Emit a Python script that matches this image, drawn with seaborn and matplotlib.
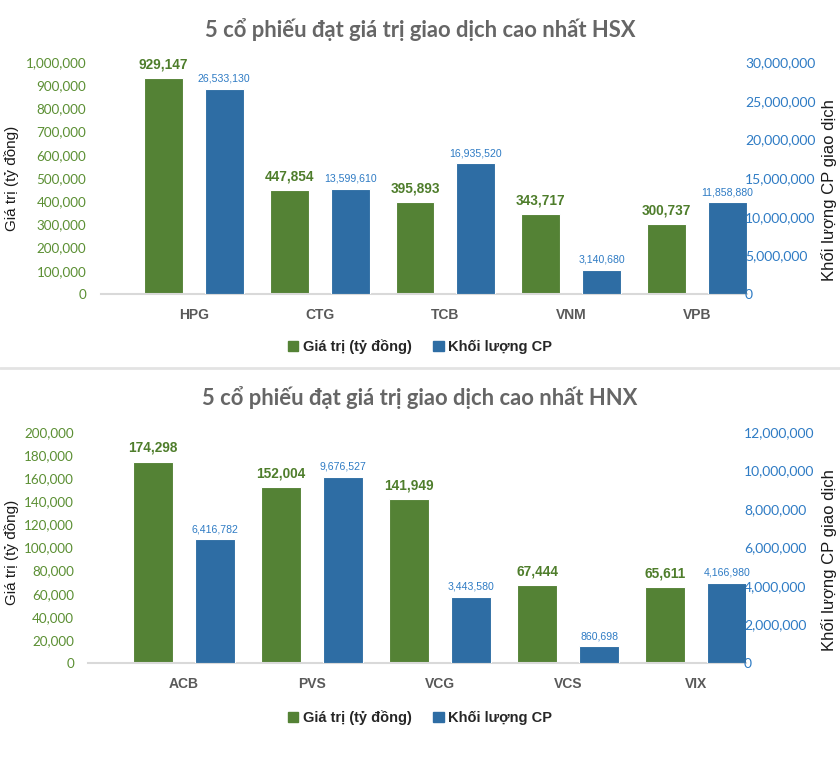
import pandas as pd
import numpy as np
import matplotlib
matplotlib.use("Agg")
import matplotlib.pyplot as plt
import seaborn as sns
from matplotlib.ticker import FuncFormatter, MultipleLocator
from matplotlib.patches import Patch
from matplotlib.lines import Line2D
from matplotlib.font_manager import FontProperties

# Dữ liệu HSX
hsx_codes = ["HPG", "CTG", "TCB", "VNM", "VPB"]
hsx_value = [929147, 447854, 395893, 343717, 300737]
hsx_volume = [26533130, 13599610, 16935520, 3140680, 11858880]

# Dữ liệu HNX
hnx_codes = ["ACB", "PVS", "VCG", "VCS", "VIX"]
hnx_value = [174298, 152004, 141949, 67444, 65611]
hnx_volume = [6416782, 9676527, 3443580, 860698, 4166980]

S1 = "Giá trị (tỷ đồng)"
S2 = "Khối lượng CP"
GREEN = "#548235"
BLUE = "#2E6DA4"
GREEN_TXT = "#5B8F33"
BLUE_TXT = "#2E7BC4"
pal = {S1: GREEN, S2: BLUE}

sns.set_theme(style="white")
plt.rcParams['font.family'] = ['Lato', 'DejaVu Sans']
NARROW = ['Liberation Sans Narrow', 'Liberation Sans', 'DejaVu Sans']

W, H = 840, 764
fig = plt.figure(figsize=(W / 100, H / 100), dpi=100)


def px_axes(left, top, right, bottom):
    return fig.add_axes([left / W, 1 - bottom / H, (right - left) / W, (bottom - top) / H])


def cot_that(ax):
    # lấy container có cột thật (bỏ qua nhóm hue rỗng)
    for c in ax.containers:
        if len(c) and all(b is not None for b in c):
            return c


def ve_panel(ax, codes, values, volumes, left_max, left_step, right_max, right_step, xlim, left_pad):
    ax2 = ax.twinx()
    df_v = pd.DataFrame({"code": codes, "val": values, "series": S1})
    df_k = pd.DataFrame({"code": codes, "val": volumes, "series": S2})
    sns.barplot(data=df_v, x="code", y="val", hue="series", hue_order=[S1, S2], order=codes,
                palette=pal, dodge=True, width=0.968, gap=0.36, saturation=1, errorbar=None,
                edgecolor="white", linewidth=0.8, legend=False, ax=ax)
    sns.barplot(data=df_k, x="code", y="val", hue="series", hue_order=[S1, S2], order=codes,
                palette=pal, dodge=True, width=0.968, gap=0.36, saturation=1, errorbar=None,
                edgecolor="white", linewidth=0.8, legend=False, ax=ax2)

    ax.set_ylim(0, left_max)
    ax2.set_ylim(0, right_max)
    ax.set_xlim(*xlim)
    ax.yaxis.set_major_locator(MultipleLocator(left_step))
    ax2.yaxis.set_major_locator(MultipleLocator(right_step))
    fmt = FuncFormatter(lambda v, p: f"{v:,.0f}")
    ax.yaxis.set_major_formatter(fmt)
    ax2.yaxis.set_major_formatter(fmt)
    ax.set_xlabel("")
    ax.set_ylabel("")
    ax2.set_ylabel("")

    for a in (ax, ax2):
        for s in a.spines.values():
            s.set_visible(False)
    ax.spines["bottom"].set_visible(True)
    ax.spines["bottom"].set_color("#D9D9D9")
    ax.spines["bottom"].set_linewidth(1.5)

    ax.tick_params(axis="y", length=0, pad=left_pad, labelcolor=GREEN_TXT, labelsize=9.7)
    ax2.tick_params(axis="y", length=0, pad=-1.5, labelcolor=BLUE_TXT, labelsize=10)
    ax.tick_params(axis="x", length=0, pad=10)
    for lab in ax.get_xticklabels():
        lab.set_fontfamily(NARROW)
        lab.set_fontweight("bold")
        lab.set_fontsize(10)
        lab.set_color("#595959")

    # nhãn giá trị trên cột
    ax.bar_label(cot_that(ax), labels=[f"{v:,}" for v in values], padding=5,
                 color="#4E7D2B", fontsize=9.8, fontweight="bold", family=NARROW)
    ax2.bar_label(cot_that(ax2), labels=[f"{v:,}" for v in volumes], padding=3.5,
                  color=BLUE_TXT, fontsize=7.6, family=NARROW)
    return ax2


# Biểu đồ HSX
ax_top = px_axes(101, 62, 747, 294)
ve_panel(ax_top, hsx_codes, hsx_value, hsx_volume, 1000000, 100000, 30000000, 5000000,
         (-0.738, 4.397), 10.5)

# Biểu đồ HNX
ax_bot = px_axes(88, 432, 746, 663)
ve_panel(ax_bot, hnx_codes, hnx_value, hnx_volume, 200000, 20000, 12000000, 2000000,
         (-0.75, 4.39), 10)

# Tiêu đề
for y, t in [(30, "5 cổ phiếu đạt giá trị giao dịch cao nhất HSX"),
             (398, "5 cổ phiếu đạt giá trị giao dịch cao nhất HNX")]:
    fig.text(0.5, 1 - y / H, t, ha="center", va="center", fontsize=15.8,
             fontweight="bold", color="#666666")

# Nhãn trục
for y in (178, 552):
    fig.text(12 / W, 1 - y / H, "Giá trị (tỷ đồng)", rotation=90, ha="center", va="center",
             fontsize=11, family=['Liberation Sans', 'DejaVu Sans'], color="#1A1A1A")
for y in (190, 560):
    fig.text(829 / W, 1 - y / H, "Khối lượng CP giao dịch", rotation=90, ha="center", va="center",
             fontsize=12, family=['Liberation Sans', 'DejaVu Sans'], color="#1A1A1A")

# Chú thích
handles = [Patch(color=GREEN), Patch(color=BLUE)]
for y in (347, 718):
    fig.legend(handles, [S1, S2], loc="center", bbox_to_anchor=(0.5, 1 - y / H), ncol=2,
               frameon=False, handlelength=0.7, handleheight=0.7, handletextpad=0.3,
               columnspacing=1.5,
               prop=FontProperties(family=NARROW, weight="bold", size=10.5))

# Đường phân cách
fig.add_artist(Line2D([0, 1], [1 - 368 / H] * 2, color="#E3E3E3", lw=2, transform=fig.transFigure))

plt.savefig("out.png", dpi=100)
